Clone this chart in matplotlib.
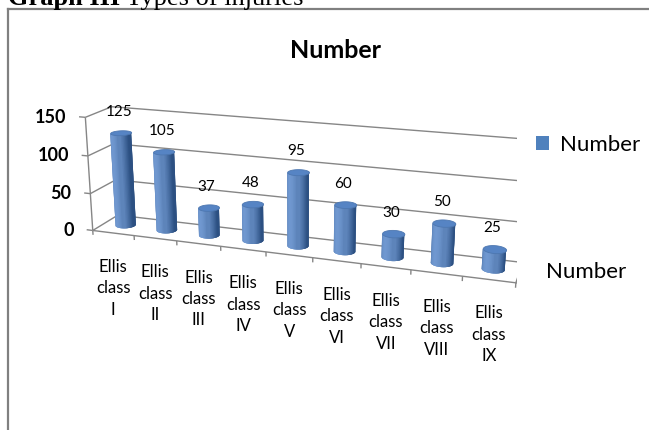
import numpy as np
import matplotlib
matplotlib.use("Agg")
import matplotlib.pyplot as plt
from matplotlib.lines import Line2D
from matplotlib.patches import Patch
from matplotlib.transforms import ScaledTranslation
from mpl_toolkits.mplot3d.art3d import Poly3DCollection

# ---- data -------------------------------------------------------------
categories = ["Ellis\nclass\nI", "Ellis\nclass\nII", "Ellis\nclass\nIII",
              "Ellis\nclass\nIV", "Ellis\nclass\nV", "Ellis\nclass\nVI",
              "Ellis\nclass\nVII", "Ellis\nclass\nVIII", "Ellis\nclass\nIX"]
values = [125, 105, 37, 48, 95, 60, 30, 50, 25]
value_ticks = [0, 50, 100, 150]
series_name = "Number"
chart_title = "Number"
caption_bold = "Graph III"
caption_rest = " Types of injuries"

# ---- style ------------------------------------------------------------
FONT = "Lato"
GRID = "#868686"
FRAME = "#808080"
SIDE_DARK = np.array([44, 80, 130]) / 255
SIDE_LIGHT = np.array([112, 152, 208]) / 255
CAP = np.array([86, 132, 196]) / 255
LEGEND_BLUE = "#4F81BD"

W_PX, H_PX = 649, 430
fig = plt.figure(figsize=(W_PX / 100, H_PX / 100), dpi=100)

def fx(px):
    return px / W_PX

def fy(py):
    return 1 - py / H_PX

# frame around the chart area (open to the right and bottom)
fig.add_artist(Line2D([fx(8), fx(8)], [0, fy(9)], color=FRAME, lw=1.6))
fig.add_artist(Line2D([fx(8), 1], [fy(9), fy(9)], color=FRAME, lw=1.6))

# caption above the chart
cap1 = fig.text(fx(8), fy(5), caption_bold, family="Liberation Serif",
                fontsize=19, fontweight="bold", va="baseline", ha="left")
renderer = fig.canvas.get_renderer()
bb = cap1.get_window_extent(renderer)
fig.text(bb.x1 / W_PX, fy(5), caption_rest, family="Liberation Serif",
         fontsize=19, va="baseline", ha="left")

# chart title
fig.text(fx(335), fy(50), chart_title, family=FONT, fontsize=18,
         fontweight="bold", ha="center", va="center")

# ---- 3-D axes ----------------------------------------------------------
S = 450
cx, cy = 292, 194
ax = fig.add_axes([fx(cx - S / 2), (H_PX - cy - S / 2) / H_PX,
                   S / W_PX, S / H_PX], projection="3d")
ax.set_facecolor("none")
ax.set_axis_off()
ax.set_xticks([])
ax.set_yticks([])
ax.set_zticks([])
ax.computed_zorder = False

n = len(values)
depth = 1.1
zmax = value_ticks[-1]
ELEV, AZIM = 17, -71
ax.set_xlim(0, n)
ax.set_ylim(0, depth)
ax.set_zlim(0, zmax)
ax.set_box_aspect((n, depth, 2.5))
ax.set_proj_type("persp", focal_length=0.40)
ax.view_init(elev=ELEV, azim=AZIM)

lk = dict(color=GRID, lw=1.0, zorder=1, solid_capstyle="butt")
for z in value_ticks:
    ax.plot([0, n], [depth, depth], [z, z], **lk)      # back wall
    ax.plot([0, 0], [0, depth], [z, z], **lk)          # side wall
    ax.plot([-0.15, 0], [0, 0], [z, z], **lk)          # value ticks
ax.plot([0, 0], [0, 0], [0, zmax], **lk)               # value axis
ax.plot([0, n], [0, 0], [0, 0], **lk)                  # category axis
for k in range(n + 1):
    ax.plot([k, k], [0, 0], [0, -6], **lk)             # category ticks
ax.plot([n, n], [0, depth], [0, 0], **lk)              # series axis
for yv in (0, depth):
    ax.plot([n, n + 0.2], [yv, yv], [0, 0], **lk)

# projection of a 3-D data point onto the axes' 2-D drawing plane
M = ax.get_proj()


def to2d(x, y, z):
    vec = M @ np.array([x, y, z, 1.0])
    return vec[0] / vec[3], vec[1] / vec[3]


def label(x, y, z, s, dx=0.0, dy=0.0, **kw):
    px, py = to2d(x, y, z)
    off = ScaledTranslation(dx, dy, fig.dpi_scale_trans)
    ax.text2D(px, py, s, transform=ax.transData + off, zorder=40,
              family=FONT, **kw)


# approximate viewer position on the floor plane (category units),
# used to keep only the camera-facing strips of each cylinder
eye_xy = np.array([n / 2, depth / 2]) + 20 * np.cos(np.radians(ELEV)) * \
    np.array([np.cos(np.radians(AZIM)), np.sin(np.radians(AZIM))])

r = 0.22
m = 48
step = 2 * np.pi / m
light = np.array([np.cos(np.radians(-112)), np.sin(np.radians(-112))])


def ring(x0, y0, a0, a1, cnt=4):
    t = np.linspace(a0, a1, cnt)
    return x0 + r * np.cos(t), y0 + r * np.sin(t)


for i, v in enumerate(values):
    x0, y0 = i + 0.5, depth / 2
    to_eye = eye_xy - np.array([x0, y0])
    to_eye /= np.linalg.norm(to_eye)
    sides, cols = [], []
    for j in range(m):
        mid = (j + 0.5) * step
        nrm = np.array([np.cos(mid), np.sin(mid)])
        if nrm @ to_eye < -0.02:
            continue
        # each strip overlaps its neighbours so no seams show between them
        xs, ys = ring(x0, y0, mid - 1.5 * step, mid + 1.5 * step)
        poly = [(xa, ya, 0) for xa, ya in zip(xs, ys)] + \
               [(xa, ya, v) for xa, ya in zip(xs[::-1], ys[::-1])]
        sides.append(poly)
        k = max(0.0, nrm @ light)
        cols.append(SIDE_DARK + (SIDE_LIGHT - SIDE_DARK) * k ** 1.2)
    body = Poly3DCollection(sides, facecolors=cols, edgecolors="none",
                            linewidths=0, zorder=3 + i)
    ax.add_collection3d(body)
    tx, ty = ring(x0, y0, 0, 2 * np.pi, 73)
    top = [(xa, ya, v) for xa, ya in zip(tx, ty)]
    cap = Poly3DCollection([top], facecolors=[CAP], edgecolors=[CAP * 0.9],
                           linewidths=0.6, zorder=30 + i)
    ax.add_collection3d(cap)
    label(x0, y0, v, str(v), dx=-0.02, dy=0.21, fontsize=11,
          ha="center", va="center")
    label(x0, 0, 0, categories[i], dy=-0.26, fontsize=12, ha="center",
          va="top", linespacing=1.42)

for z in value_ticks:
    label(0, 0, z, str(z), dx=-0.19, fontsize=13, fontweight="bold",
          ha="right", va="center")

label(n, depth / 2, 0, series_name, dx=0.27, fontsize=16, ha="left",
      va="center")

# legend
fig.legend(handles=[Patch(facecolor=LEGEND_BLUE)], labels=[series_name],
           loc="center left", bbox_to_anchor=(fx(536), fy(145)),
           frameon=False, borderpad=0, borderaxespad=0,
           handlelength=0.6, handleheight=0.6, handletextpad=0.5,
           prop=dict(family=FONT, size=16))

fig.savefig("out.png", dpi=100)
